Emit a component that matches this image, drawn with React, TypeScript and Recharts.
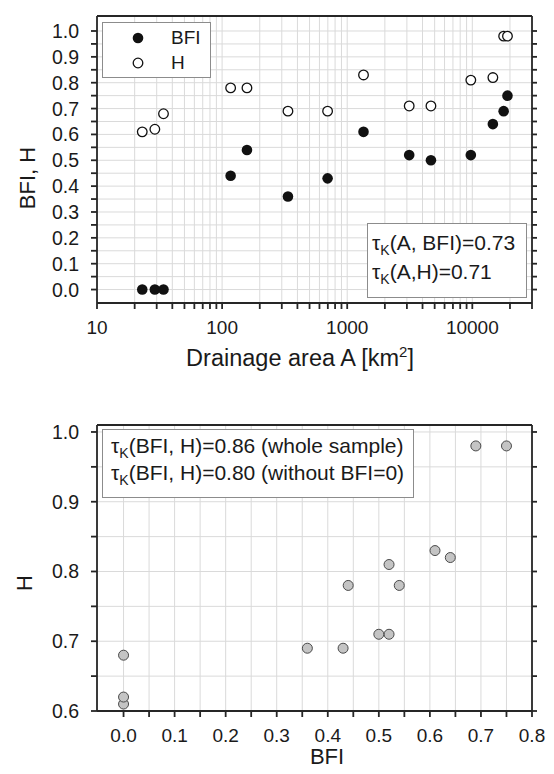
import React from "react"
import { ScatterChart, Scatter, XAxis, YAxis, CartesianGrid, Label } from "recharts"

const FONT = '"Liberation Sans", Arial, Helvetica, sans-serif'
const INK = "#1a1a1a"
const AXIS = "#262626"
const GRID = "#dadada"

// 14 catchments: drainage area [km2], base flow index, Hurst exponent
const drainageArea = [23, 29, 34, 117, 158, 336, 697, 1350, 3130, 4670, 9730, 14600, 17800, 19100]
const bfiValues = [0, 0, 0, 0.44, 0.54, 0.36, 0.43, 0.61, 0.52, 0.5, 0.52, 0.64, 0.69, 0.75]
const hValues = [0.61, 0.62, 0.68, 0.78, 0.78, 0.69, 0.69, 0.83, 0.71, 0.71, 0.81, 0.82, 0.98, 0.98]

const areaTicks = [
  10, 20, 30, 40, 50, 60, 70, 80, 90,
  100, 200, 300, 400, 500, 600, 700, 800, 900,
  1000, 2000, 3000, 4000, 5000, 6000, 7000, 8000, 9000,
  10000, 20000, 30000,
]
const areaLabels = [10, 100, 1000, 10000]
const shareTicks = [0, 0.05, 0.1, 0.15, 0.2, 0.25, 0.3, 0.35, 0.4, 0.45, 0.5, 0.55, 0.6, 0.65, 0.7, 0.75, 0.8, 0.85, 0.9, 0.95, 1.0]
const bfiTicks = [0, 0.05, 0.1, 0.15, 0.2, 0.25, 0.3, 0.35, 0.4, 0.45, 0.5, 0.55, 0.6, 0.65, 0.7, 0.75, 0.8]
const hTicks = [0.6, 0.65, 0.7, 0.75, 0.8, 0.85, 0.9, 0.95, 1.0]

const bfiSeries = drainageArea.map((a, i) => ({ x: a, y: bfiValues[i] }))
const hSeries = drainageArea.map((a, i) => ({ x: a, y: hValues[i] }))
const pairSeries = bfiValues.map((b, i) => ({ x: b, y: hValues[i] }))

const isTenth = (v: number) => Math.abs(v * 10 - Math.round(v * 10)) < 1e-6

// frame edges (both panels share left/right)
const LEFT = 97
const RIGHT = 532
const TICK = 6
const TW = 1.8

// tick marks drawn by hand so they point outwards from the frame
const topTick = (axisY: number) => (props: any) => (
  <line x1={props.x} y1={axisY - 5} x2={props.x} y2={axisY} stroke={AXIS} strokeWidth={TW} />
)
const rightTick = (props: any) => (
  <line x1={RIGHT} y1={props.y} x2={RIGHT + 5} y2={props.y} stroke={AXIS} strokeWidth={TW} />
)

const bottomTick = (axisY: number, show: (v: number) => boolean, fmt: (v: number) => string) => (props: any) => {
  const { x, payload } = props
  return (
    <g>
      <line x1={x} y1={axisY} x2={x} y2={axisY + TICK} stroke={AXIS} strokeWidth={TW} />
      {show(payload.value) && (
        <text x={x} y={axisY + 31} textAnchor="middle" fontSize={19} fill={INK} fontFamily={FONT}>
          {fmt(payload.value)}
        </text>
      )}
    </g>
  )
}

const leftTick = (props: any) => {
  const { y, payload } = props
  return (
    <g>
      <line x1={LEFT - TICK} y1={y} x2={LEFT} y2={y} stroke={AXIS} strokeWidth={TW} />
      {isTenth(payload.value) && (
        <text x={79} y={y + 7} textAnchor="end" fontSize={19.5} fill={INK} fontFamily={FONT}>
          {payload.value.toFixed(1)}
        </text>
      )}
    </g>
  )
}

const FilledDot = (p: any) => <circle cx={p.cx} cy={p.cy} r={5.3} fill="#111" />
const OpenDot = (p: any) => <circle cx={p.cx} cy={p.cy} r={4.8} fill="#fff" stroke="#111" strokeWidth={1.3} />
const GrayDot = (p: any) => <circle cx={p.cx} cy={p.cy} r={5} fill="#c4c4c4" stroke="#4a4a4a" strokeWidth={1} />

const axisLine = { stroke: AXIS, strokeWidth: 1.8 }

const Tau = ({ children }: { children: React.ReactNode }) => (
  <span>
    τ<span style={{ fontSize: 14, position: "relative", top: 5 }}>K</span>
    {children}
  </span>
)

const boxStyle: React.CSSProperties = {
  position: "absolute",
  boxSizing: "border-box",
  border: "1px solid #8c8c8c",
  background: "#fff",
  fontFamily: FONT,
  fontSize: 19,
  color: INK,
}

const lineStyle = (top: number, left: number, size = 19): React.CSSProperties => ({
  position: "absolute",
  top,
  left,
  height: 26,
  lineHeight: "26px",
  fontSize: size,
  whiteSpace: "nowrap",
})

function AreaPanel() {
  return (
    <div style={{ position: "relative", width: 554, height: 390 }}>
      <ScatterChart width={554} height={390} margin={{ top: 0, right: 0, bottom: 0, left: 0 }}>
        <CartesianGrid stroke={GRID} />
        <XAxis
          dataKey="x" type="number" scale="log" domain={[10, 30000]} allowDataOverflow
          ticks={areaTicks} interval={0} height={87} tickSize={TICK} tickMargin={0}
          axisLine={axisLine} tickLine={false}
          tick={bottomTick(303, (v) => areaLabels.includes(v), (v) => String(v))}
        >
          <Label
            content={() => (
              <text x={300} y={366} textAnchor="middle" fontSize={23.5} fill={INK} fontFamily={FONT}>
                Drainage area A [km<tspan dy={-9} fontSize={15}>2</tspan>
                <tspan dy={9}>]</tspan>
              </text>
            )}
          />
        </XAxis>
        <XAxis
          xAxisId="top" orientation="top" type="number" scale="log" domain={[10, 30000]} allowDataOverflow
          ticks={areaTicks} interval={0} height={16} tickSize={5} tickMargin={0}
          axisLine={axisLine} tickLine={false} tick={topTick(16)}
        />
        <YAxis
          dataKey="y" type="number" domain={[-0.052, 1.058]} allowDataOverflow
          ticks={shareTicks} interval={0} width={LEFT} tickSize={TICK} tickMargin={0}
          axisLine={axisLine} tickLine={false} tick={leftTick}
        >
          <Label
            content={() => (
              <text
                x={27.5} y={178} textAnchor="middle" dominantBaseline="central"
                transform="rotate(-90 27.5 178)" fontSize={22} fill={INK} fontFamily={FONT}
              >
                BFI, H
              </text>
            )}
          />
        </YAxis>
        <YAxis
          yAxisId="right" orientation="right" type="number" domain={[-0.052, 1.058]} allowDataOverflow
          ticks={shareTicks} interval={0} width={554 - RIGHT} tickSize={5} tickMargin={0}
          axisLine={axisLine} tickLine={false} tick={rightTick}
        />
        <Scatter data={hSeries} shape={OpenDot} isAnimationActive={false} />
        <Scatter data={bfiSeries} shape={FilledDot} isAnimationActive={false} />
      </ScatterChart>

      <div style={{ ...boxStyle, left: 102, top: 22, width: 109, height: 56 }}>
        <div style={lineStyle(2, 0)}>
          <svg width={60} height={26} style={{ verticalAlign: "top" }}>
            <circle cx={35} cy={13} r={5.3} fill="#111" />
          </svg>
          <span style={{ position: "absolute", left: 68, top: 0 }}>BFI</span>
        </div>
        <div style={lineStyle(27, 0)}>
          <svg width={60} height={26} style={{ verticalAlign: "top" }}>
            <circle cx={35} cy={13} r={4.8} fill="#fff" stroke="#111" strokeWidth={1.3} />
          </svg>
          <span style={{ position: "absolute", left: 68, top: 0 }}>H</span>
        </div>
      </div>

      <div style={{ ...boxStyle, left: 367, top: 223, width: 160, height: 75 }}>
        <div style={lineStyle(6, 4, 21)}>
          <Tau>(A, BFI)=0.73</Tau>
        </div>
        <div style={lineStyle(35, 4, 21)}>
          <Tau>(A,H)=0.71</Tau>
        </div>
      </div>
    </div>
  )
}

function PairPanel() {
  return (
    <div style={{ position: "relative", width: 554, height: 384 }}>
      <ScatterChart width={554} height={384} margin={{ top: 20, right: 0, bottom: 0, left: 0 }}>
        <CartesianGrid stroke={GRID} />
        <XAxis
          dataKey="x" type="number" domain={[-0.052, 0.8]} allowDataOverflow
          ticks={bfiTicks} interval={0} height={63} tickSize={TICK} tickMargin={0}
          axisLine={axisLine} tickLine={false}
          tick={bottomTick(321, isTenth, (v) => v.toFixed(1))}
        >
          <Label
            content={() => (
              <text x={327} y={374} textAnchor="middle" fontSize={22} fill={INK} fontFamily={FONT}>
                BFI
              </text>
            )}
          />
        </XAxis>
        <XAxis
          xAxisId="top" orientation="top" type="number" domain={[-0.052, 0.8]} allowDataOverflow
          ticks={bfiTicks} interval={0} height={15} tickSize={5} tickMargin={0}
          axisLine={axisLine} tickLine={false} tick={topTick(35)}
        />
        <YAxis
          dataKey="y" type="number" domain={[0.6, 1.01]} allowDataOverflow
          ticks={hTicks} interval={0} width={LEFT} tickSize={TICK} tickMargin={0}
          axisLine={axisLine} tickLine={false} tick={leftTick}
        >
          <Label
            content={() => (
              <text
                x={24.5} y={193} textAnchor="middle" dominantBaseline="central"
                transform="rotate(-90 24.5 193)" fontSize={22} fill={INK} fontFamily={FONT}
              >
                H
              </text>
            )}
          />
        </YAxis>
        <YAxis
          yAxisId="right" orientation="right" type="number" domain={[0.6, 1.01]} allowDataOverflow
          ticks={hTicks} interval={0} width={554 - RIGHT} tickSize={5} tickMargin={0}
          axisLine={axisLine} tickLine={false} tick={rightTick}
        />
        <Scatter data={pairSeries} shape={GrayDot} isAnimationActive={false} />
      </ScatterChart>

      <div style={{ ...boxStyle, left: 102, top: 39, width: 312, height: 69 }}>
        <div style={lineStyle(3, 8, 21)}>
          <Tau>(BFI, H)=0.86 (whole sample)</Tau>
        </div>
        <div style={lineStyle(30, 8, 21)}>
          <Tau>(BFI, H)=0.80 (without BFI=0)</Tau>
        </div>
      </div>
    </div>
  )
}

export default function App() {
  return (
    <div style={{ position: "fixed", left: 0, top: 0, width: 554, height: 774, background: "#fff" }}>
      <AreaPanel />
      <PairPanel />
    </div>
  )
}
